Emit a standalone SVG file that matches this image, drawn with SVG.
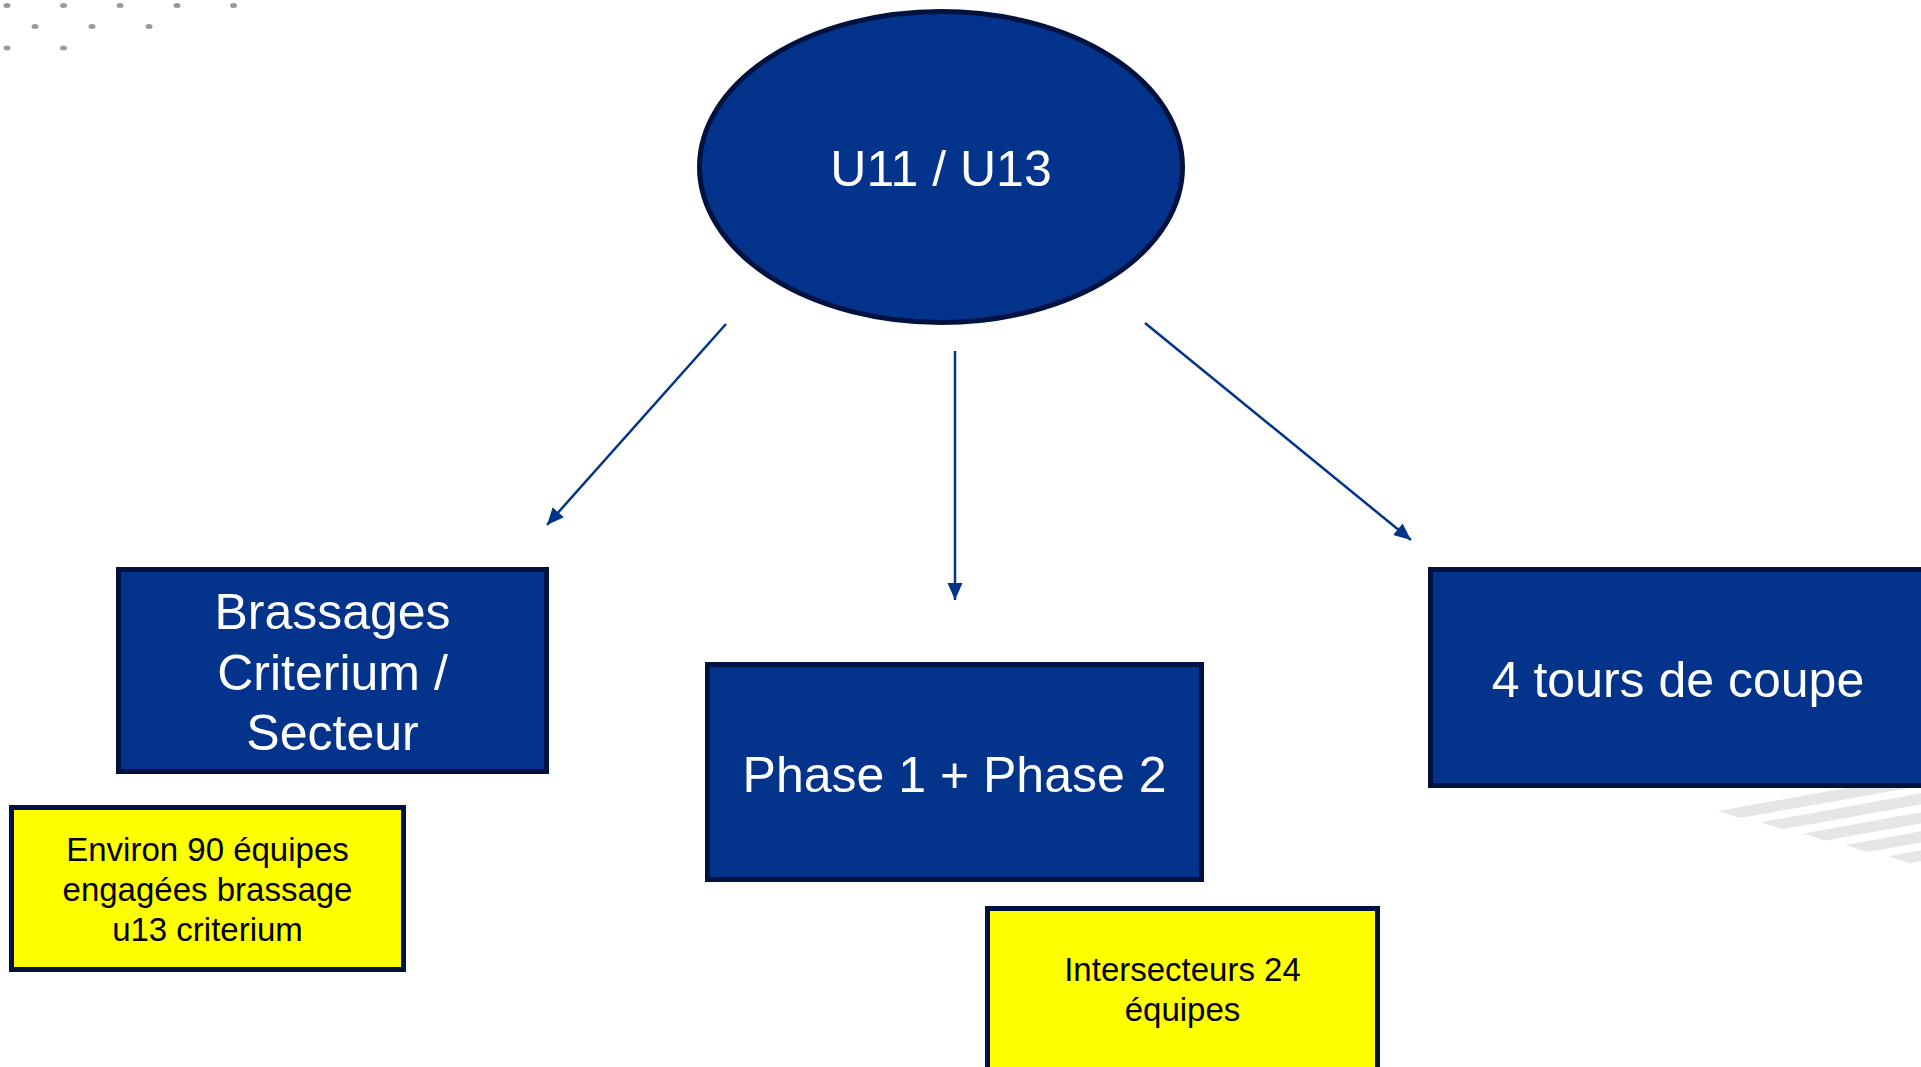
<svg xmlns="http://www.w3.org/2000/svg" width="1921" height="1067" viewBox="0 0 1921 1067">
<style>
.blue{fill:#03338a;stroke:#021240;stroke-width:5}
.yel{fill:#ffff00;stroke:#021240;stroke-width:5}
.wt{font-family:"Liberation Sans",Arial,sans-serif;fill:#ffffff;font-size:50px;text-anchor:middle}
.bt{font-family:"Liberation Sans",Arial,sans-serif;fill:#000000;font-size:33px;text-anchor:middle}
.conn{stroke:#03338a;stroke-width:2.5;fill:none}
.dot{fill:#9a9a9a}
.stripe{fill:#e6e6e6}
</style>
<defs>
<marker id="arr" markerUnits="userSpaceOnUse" markerWidth="18" markerHeight="16" refX="17" refY="7.5" orient="auto">
<path d="M0,0 L17,7.5 L0,15 z" fill="#03338a"/>
</marker>
</defs>
<rect width="1921" height="1067" fill="#ffffff"/>
<g id="decor">
<ellipse class="dot" cx="7" cy="5.5" rx="3.5" ry="2.5"/>
<ellipse class="dot" cx="63.5" cy="5.5" rx="3.5" ry="2.5"/>
<ellipse class="dot" cx="120" cy="5.5" rx="3.5" ry="2.5"/>
<ellipse class="dot" cx="177" cy="5.5" rx="3.5" ry="2.5"/>
<ellipse class="dot" cx="233.5" cy="5.5" rx="3.5" ry="2.5"/>
<ellipse class="dot" cx="35" cy="26.5" rx="3.5" ry="2.5"/>
<ellipse class="dot" cx="92" cy="26.5" rx="3.5" ry="2.5"/>
<ellipse class="dot" cx="149" cy="26.5" rx="3.5" ry="2.5"/>
<ellipse class="dot" cx="7" cy="48" rx="3.5" ry="2.5"/>
<ellipse class="dot" cx="63.5" cy="48" rx="3.5" ry="2.5"/>
<polygon class="stripe" points="1718,811 2118,739 2118,751 1740,818"/>
<polygon class="stripe" points="1760.5,822.3 2160,750 2160,762 1782.5,829.3"/>
<polygon class="stripe" points="1803,833.6 2203,761 2203,773 1825,840.6"/>
<polygon class="stripe" points="1845.5,844.9 2245,773 2245,785 1867.5,851.9"/>
<polygon class="stripe" points="1888,856.2 2288,784 2288,796 1910,863.2"/>
</g>
<g id="connectors">
<line class="conn" x1="726" y1="324" x2="547" y2="525" marker-end="url(#arr)"/>
<line class="conn" x1="955" y1="351" x2="955" y2="600" marker-end="url(#arr)"/>
<line class="conn" x1="1145" y1="323" x2="1411" y2="540" marker-end="url(#arr)"/>
</g>
<g id="node-u11u13">
<ellipse class="blue" cx="941" cy="167" rx="241.5" ry="155.5"/>
<text class="wt" x="941" y="186">U11 / U13</text>
</g>
<g id="node-brassages">
<rect class="blue" x="118.5" y="569.5" width="428" height="202"/>
<text class="wt" x="332.5" y="629">Brassages</text>
<text class="wt" x="332.5" y="690">Criterium /</text>
<text class="wt" x="332.5" y="750">Secteur</text>
</g>
<g id="note-brassages">
<rect class="yel" x="11.5" y="807.5" width="392" height="162"/>
<text class="bt" x="207.5" y="861">Environ 90 équipes</text>
<text class="bt" x="207.5" y="901">engagées brassage</text>
<text class="bt" x="207.5" y="941">u13 criterium</text>
</g>
<g id="node-phase">
<rect class="blue" x="707.5" y="664.5" width="494" height="215"/>
<text class="wt" x="954.5" y="792">Phase 1 + Phase 2</text>
</g>
<g id="note-phase">
<rect class="yel" x="987.5" y="908.5" width="390" height="200"/>
<text class="bt" x="1182.5" y="981">Intersecteurs 24</text>
<text class="bt" x="1182.5" y="1021">équipes</text>
</g>
<g id="node-coupe">
<rect class="blue" x="1430.5" y="569.5" width="500" height="216"/>
<text class="wt" x="1678" y="697">4 tours de coupe</text>
</g>
</svg>
